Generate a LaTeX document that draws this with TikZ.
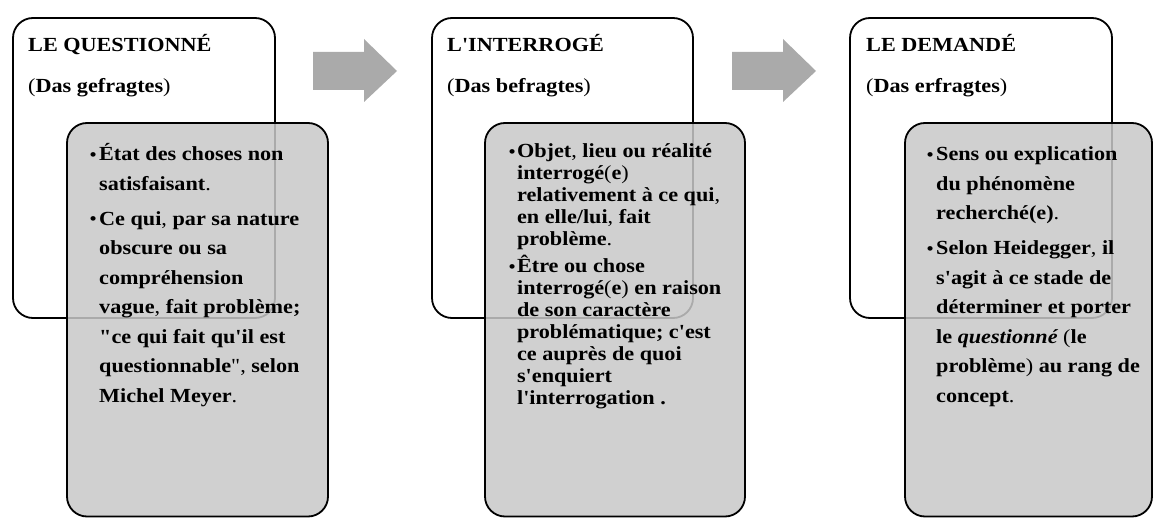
\documentclass[tikz,border=0pt]{standalone}
\usepackage{fontspec}
\usepackage{graphicx}
\newfontfamily\gar{Liberation Serif}
\newfontfamily\garbi{Liberation Serif Bold Italic}
\definecolor{boxgray}{gray}{0.784}
\definecolor{arrowgray}{gray}{0.667}
\newcommand\rg[1]{{\mdseries #1}}
\newcommand\sx[1]{\scalebox{1.11}[1]{#1}}
\newcommand\lines[3]{\vtop{\baselineskip=#1\lineskiplimit=-\maxdimen\lineskip=0pt\def\bw{#2}#3}}
\newcommand\bl[1]{\hbox{\makebox[\bw][l]{\hspace{0.5pt}\raisebox{0.6pt}{\scalebox{0.85}{•}}}#1}}
\newcommand\li[1]{\hbox{\hspace{\bw}#1}}
\begin{document}
\begin{tikzpicture}[x=1pt,y=-1pt,
  wbox/.style={draw, line width=1.8pt, fill=white, rounded corners=20pt, inner sep=0pt, minimum height=300pt},
  gbox/.style={draw, line width=1.8pt, fill=boxgray, fill opacity=0.85, draw opacity=1, rounded corners=20pt, inner sep=0pt},
  txt/.style={font=\gar\bfseries\fontsize{20}{24}\selectfont, inner sep=0pt, anchor=base west},
  arrowshape/.style={fill=arrowgray}]
\useasboundingbox (0,0) rectangle (1154,518);

% white boxes
\node[wbox, minimum width=262pt] (w1) at (144,168) {};
\node[wbox, minimum width=261pt] (w2) at (562.5,168) {};
\node[wbox, minimum width=262pt] (w3) at (981,168) {};

% headings
\node[txt] (h1) at (28,52) {\sx{LE QUESTIONNÉ}};
\node[txt] (s1) at (28,93) {\sx{\rg{(}Das gefragtes\rg{)}}};
\node[txt] (h2) at (447,52) {\sx{L'INTERROGÉ}};
\node[txt] (s2) at (447,93) {\sx{\rg{(}Das befragtes\rg{)}}};
\node[txt] (h3) at (866,52) {\sx{LE DEMANDÉ}};
\node[txt] (s3) at (866,93) {\sx{\rg{(}Das erfragtes\rg{)}}};

% arrows
\fill[arrowshape] (313,52) -- (364,52) -- (364,39) -- (397,71) -- (364,102) -- (364,90) -- (313,90) -- cycle;
\fill[arrowshape] (732,52) -- (783,52) -- (783,39) -- (816,71) -- (783,102) -- (783,90) -- (732,90) -- cycle;

% grey boxes
\node[gbox, minimum width=261pt, minimum height=393.5pt] (g1) at (197.5,319.75) {};
\node[gbox, minimum width=260pt, minimum height=393.5pt] (g2) at (615,319.75) {};
\node[gbox, minimum width=247pt, minimum height=393.5pt] (g3) at (1028.5,319.75) {};

% texts
\node[txt] (t1) at (89,161) {\sx{\lines{29.5pt}{9pt}{%
  \bl{État des choses non}
  \li{satisfaisant\rg{.}}
  \vskip5.5pt
  \bl{Ce qui\rg{,} par sa nature}
  \li{obscure ou sa}
  \li{compréhension}
  \li{vague\rg{,} fait problème;}
  \li{"ce qui fait qu'il est}
  \li{questionnable\rg{",} selon}
  \li{Michel Meyer\rg{.}}}}};

\node[txt] (t2) at (508,158) {\sx{\lines{22pt}{8pt}{%
  \bl{Objet\rg{,} lieu ou réalité}
  \li{interrogé\rg{(}e\rg{)}}
  \li{relativement à ce qui\rg{,}}
  \li{en elle/lui\rg{,} fait}
  \li{problème\rg{.}}
  \vskip5pt
  \bl{Être ou chose}
  \li{interrogé\rg{(}e\rg{)} en raison}
  \li{de son caractère}
  \li{problématique; c'est}
  \li{ce auprès de quoi}
  \li{s'enquiert}
  \li{l'interrogation .}}}};

\node[txt] (t3) at (926,161) {\sx{\lines{29.5pt}{9pt}{%
  \bl{Sens ou explication}
  \li{du phénomène}
  \li{recherché(e)\rg{.}}
  \vskip5.5pt
  \bl{Selon Heidegger\rg{,} il}
  \li{s'agit à ce stade de}
  \li{déterminer et porter}
  \li{le {\garbi questionné} \rg{(}le}
  \li{problème\rg{)} au rang de}
  \li{concept\rg{.}}}}};
\end{tikzpicture}
\end{document}
